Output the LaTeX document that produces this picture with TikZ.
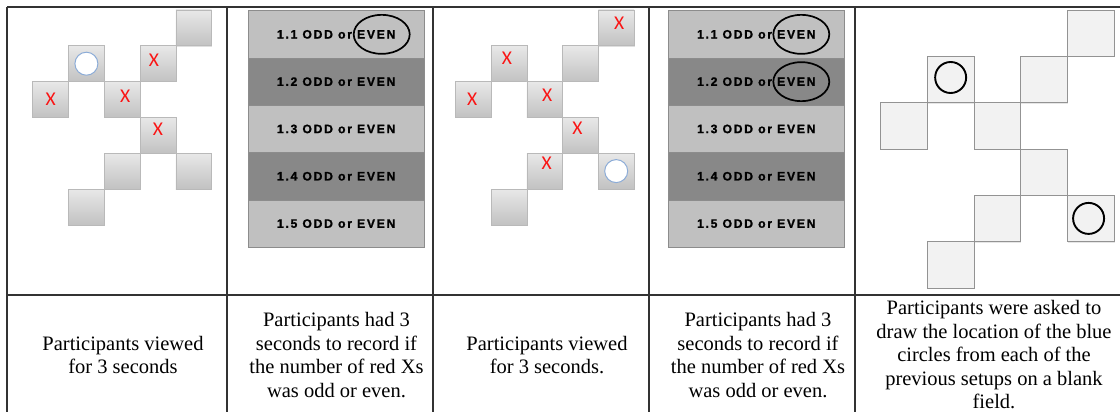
\documentclass[tikz,border=0pt]{standalone}
\usepackage{fontspec}
\setmainfont{Liberation Serif}
\newfontfamily\boxfont[LetterSpace=14,FakeBold=1.3]{Liberation Sans Bold}
\newfontfamily\xfont{Carlito}
\usetikzlibrary{shapes.geometric,shadows}
\definecolor{circblue}{RGB}{140,172,215}
\definecolor{lightrowc}{RGB}{192,192,192}
\definecolor{darkrowc}{RGB}{136,136,136}
\definecolor{xred}{RGB}{250,20,20}
\begin{document}
\begin{tikzpicture}[x=1pt,y=-1pt,
  cellline/.style={draw=black!80,line width=1.2pt},
  sqa/.style={rectangle,inner sep=0pt,minimum size=35.8pt,draw=gray!55,line width=0.6pt,
    top color=gray!18,bottom color=gray!48,
    drop shadow={shadow xshift=0.7pt,shadow yshift=-0.9pt,opacity=0.25}},
  sqb/.style={rectangle,inner sep=0pt,minimum size=46.5pt,draw=gray!85,line width=0.7pt,
    fill=gray!10,drop shadow={shadow xshift=0.7pt,shadow yshift=-0.9pt,opacity=0.2}},
  redx/.style={text=xred,inner sep=0pt,font=\xfont\fontsize{19.5}{20}\selectfont},
  bluecirc/.style={circle,inner sep=0pt,minimum size=23pt,draw=circblue,line width=1pt,fill=white},
  blackcirc/.style={circle,inner sep=0pt,minimum size=31pt,draw=black,line width=1.9pt},
  rowbox/.style={rectangle,inner sep=0pt,minimum width=175.7pt,minimum height=47.3pt,
    draw=black!45,line width=0.5pt,font=\boxfont\fontsize{12.2}{13}\selectfont},
  lightrow/.style={rowbox,fill=lightrowc},
  darkrow/.style={rowbox,fill=darkrowc},
  evenring/.style={ellipse,draw=black,line width=1.7pt,inner sep=0pt,minimum width=56pt,minimum height=39pt},
  caption/.style={align=center,inner sep=0pt,font=\fontsize{20.5}{23.5}\selectfont}
]
\useasboundingbox (0,0) rectangle (1120,412);

% table lines
\draw[cellline] (7,7) -- (1120,7);
\draw[cellline] (7,295) -- (1120,295);
\foreach \xx in {7,227,433,649,855}{\draw[cellline] (\xx,7) -- (\xx,412);}

% ---------- panel 1 ----------
\foreach \c/\r/\n in {4/0/a,1/1/b,3/1/c,0/2/d,2/2/e,3/3/f,2/4/g,4/4/h,1/5/i}{
  \node[sqa] (p1\n) at ({50.6+35.8*\c},{27.9+35.8*\r}) {};
}
\node[bluecirc] (p1o) at (p1b.center) {};
\node[redx] (p1xc) at ([xshift=-4pt,yshift=3.5pt]p1c.center) {X};
\node[redx] (p1xd) at (p1d.center) {X};
\node[redx] (p1xe) at ([xshift=3pt,yshift=3.5pt]p1e.center) {X};
\node[redx] (p1xf) at ([yshift=6.5pt]p1f.center) {X};

% ---------- panel 2 ----------
\node[lightrow] (r2a) at (336.2,34.35) {1.1 ODD or EVEN};
\node[darkrow]  (r2b) at (336.2,81.65) {1.2 ODD or EVEN};
\node[lightrow] (r2c) at (336.2,128.95) {1.3 ODD or EVEN};
\node[darkrow]  (r2d) at (336.2,176.25) {1.4 ODD or EVEN};
\node[lightrow] (r2e) at (336.2,223.55) {1.5 ODD or EVEN};
\node[evenring] (e2a) at ([xshift=45.5pt]r2a.center) {};

% ---------- panel 3 ----------
\foreach \c/\r/\n in {4/0/a,1/1/b,3/1/c,0/2/d,2/2/e,3/3/f,2/4/g,4/4/h,1/5/i}{
  \node[sqa] (p3\n) at ({473.2+35.75*\c},{27.9+35.8*\r}) {};
}
\node[bluecirc] (p3o) at (p3h.center) {};
\node[redx] (p3xa) at ([xshift=3pt,yshift=4.5pt]p3a.center) {X};
\node[redx] (p3xb) at ([xshift=-2pt,yshift=5pt]p3b.center) {X};
\node[redx] (p3xd) at ([xshift=-1pt]p3d.center) {X};
\node[redx] (p3xe) at ([xshift=2.5pt,yshift=4pt]p3e.center) {X};
\node[redx] (p3xf) at ([xshift=-3pt,yshift=7.5pt]p3f.center) {X};
\node[redx] (p3xg) at ([xshift=2pt,yshift=8pt]p3g.center) {X};

% ---------- panel 4 ----------
\node[lightrow] (r4a) at (756.3,34.35) {1.1 ODD or EVEN};
\node[darkrow]  (r4b) at (756.3,81.65) {1.2 ODD or EVEN};
\node[lightrow] (r4c) at (756.3,128.95) {1.3 ODD or EVEN};
\node[darkrow]  (r4d) at (756.3,176.25) {1.4 ODD or EVEN};
\node[lightrow] (r4e) at (756.3,223.55) {1.5 ODD or EVEN};
\node[evenring] (e4a) at ([xshift=45pt]r4a.center) {};
\node[evenring] (e4b) at ([xshift=45pt]r4b.center) {};

% ---------- panel 5 ----------
\foreach \c/\r/\n in {4/0/a,1/1/b,3/1/c,0/2/d,2/2/e,3/3/f,2/4/g,4/4/h,1/5/i}{
  \node[sqb] (p5\n) at ({904+46.65*\c},{33.2+46.3*\r}) {};
}
\node[blackcirc] (p5ob) at ([yshift=2pt]p5b.center) {};
\node[blackcirc] (p5oh) at ([xshift=-2pt]p5h.center) {};

% ---------- captions ----------
\node[caption] (c1) at (123,355) {Participants viewed\\for 3 seconds};
\node[caption] (c2) at (336.5,355) {Participants had 3\\seconds to record if\\the number of red Xs\\was odd or even.};
\node[caption] (c3) at (547,355) {Participants viewed\\for 3 seconds.};
\node[caption] (c4) at (758,355) {Participants had 3\\seconds to record if\\the number of red Xs\\was odd or even.};
\node[caption] (c5) at (994,355) {Participants were asked to\\draw the location of the blue\\circles from each of the\\previous setups on a blank\\field.};
\end{tikzpicture}
\end{document}
